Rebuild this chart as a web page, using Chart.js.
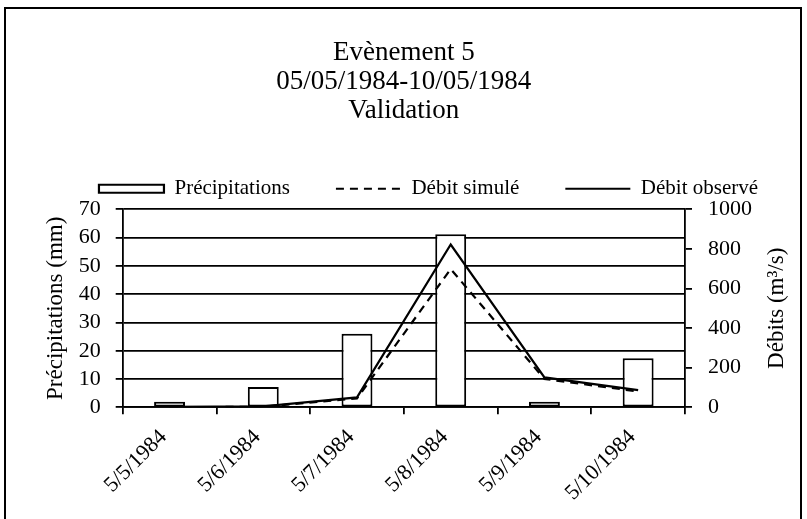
<!DOCTYPE html>
<html>
<head>
<meta charset="utf-8">
<script src="https://cdn.jsdelivr.net/npm/chart.js@4"></script>
<style>
  html, body { margin: 0; padding: 0; background: #fff; }
  #wrap { width: 807px; height: 519px; }
</style>
</head>
<body>
<div id="wrap"><canvas id="c" width="807" height="519"></canvas></div>
<script>
const titleLines = ['Evènement 5', '05/05/1984-10/05/1984', 'Validation'];
const categories = ['5/5/1984', '5/6/1984', '5/7/1984', '5/8/1984', '5/9/1984', '5/10/1984'];
const precipitations = [2, 7.2, 26, 61.2, 2, 17.3];
const debitSimule = [0, 3, 45, 698, 143, 80];
const debitObserve = [2, 5, 50, 822, 151, 87];
const seriesNames = ['Précipitations', 'Débit simulé', 'Débit observé'];
const leftAxisTitle = 'Précipitations (mm)';
const rightAxisTitle = 'Débits (m³/s)';

const FONT = "'Liberation Serif', 'Times New Roman', serif";
Chart.defaults.color = '#000';
Chart.defaults.font.family = FONT;

const framePlugin = {
  id: 'frame',
  beforeDraw(chart) {
    const ctx = chart.ctx;
    ctx.save();
    ctx.fillStyle = '#fff';
    ctx.fillRect(0, 0, chart.width, chart.height);
    ctx.restore();
  },
  afterDraw(chart) {
    const ctx = chart.ctx;
    ctx.save();
    ctx.strokeStyle = '#000';
    ctx.lineWidth = 2;
    ctx.strokeRect(5, 8, chart.width - 11, chart.height + 20);
    // right axis title, reading bottom to top
    const s = chart.scales.y1;
    const ca = chart.chartArea;
    ctx.translate(s.right - 30, (ca.top + ca.bottom) / 2);
    ctx.rotate(-Math.PI / 2);
    ctx.font = '23px ' + FONT;
    ctx.fillStyle = '#000';
    ctx.textAlign = 'center';
    ctx.textBaseline = 'middle';
    ctx.fillText(rightAxisTitle, 0, 0);
    ctx.restore();
  }
};

new Chart(document.getElementById('c'), {
  type: 'bar',
  data: {
    labels: categories,
    datasets: [
      {
        label: seriesNames[0],
        data: precipitations,
        yAxisID: 'y',
        backgroundColor: '#fff',
        borderColor: '#000',
        borderWidth: 2,
        borderSkipped: false,
        barPercentage: 0.33,
        categoryPercentage: 1,
        order: 2
      },
      {
        type: 'line',
        label: seriesNames[1],
        data: debitSimule,
        yAxisID: 'y1',
        borderColor: '#000',
        backgroundColor: '#000',
        borderWidth: 2.2,
        borderDash: [8, 6],
        pointRadius: 0,
        tension: 0,
        fill: false,
        order: 1
      },
      {
        type: 'line',
        label: seriesNames[2],
        data: debitObserve,
        yAxisID: 'y1',
        borderColor: '#000',
        backgroundColor: '#000',
        borderWidth: 2.2,
        pointRadius: 0,
        tension: 0,
        fill: false,
        order: 0
      }
    ]
  },
  options: {
    responsive: false,
    animation: false,
    devicePixelRatio: 1,
    layout: { padding: { left: 50, right: 0, top: 0, bottom: 0 } },
    plugins: {
      title: {
        display: true,
        fullSize: false,
        text: titleLines,
        font: { family: FONT, size: 27, weight: 'normal', lineHeight: 1.07 },
        color: '#000',
        padding: { top: 38.5, bottom: 7.1 }
      },
      legend: {
        position: 'top',
        labels: {
          usePointStyle: true,
          pointStyleWidth: 65,
          boxHeight: 8,
          padding: 46,
          font: { family: FONT, size: 21 },
          color: '#000',
          sort: (a, b) => a.datasetIndex - b.datasetIndex,
          generateLabels(chart) {
            const items = Chart.defaults.plugins.legend.labels.generateLabels(chart);
            items.forEach(it => {
              const ds = chart.data.datasets[it.datasetIndex];
              if (ds.type === 'line') {
                it.pointStyle = 'line';
                it.fillStyle = '#000';
                it.strokeStyle = '#000';
                it.lineWidth = 2.2;
                it.lineDash = ds.borderDash || [];
              } else {
                it.pointStyle = 'rect';
                it.fillStyle = '#fff';
                it.strokeStyle = '#000';
                it.lineWidth = 2.2;
              }
            });
            return items;
          }
        }
      },
      tooltip: { enabled: false }
    },
    scales: {
      x: {
        offset: true,
        grid: {
          offset: true,
          drawOnChartArea: false,
          drawTicks: true,
          tickLength: 7,
          color: '#000',
          lineWidth: 1.8
        },
        border: { display: true, color: '#000', width: 1.8 },
        ticks: {
          autoSkip: false,
          minRotation: 45,
          maxRotation: 45,
          padding: 10,
          labelOffset: -6,
          font: { family: FONT, size: 22 },
          color: '#000'
        },
        afterFit(s) { s.height = 111.7; }
      },
      y: {
        position: 'left',
        min: 0,
        max: 70,
        ticks: { stepSize: 10, autoSkip: false, padding: 15, font: { family: FONT, size: 22 }, color: '#000' },
        grid: { color: '#000', lineWidth: 1.8, tickLength: 7, drawTicks: true },
        border: { display: true, color: '#000', width: 1.8 },
        title: {
          display: true,
          text: leftAxisTitle,
          font: { family: FONT, size: 23 },
          color: '#000',
          padding: { top: -8, bottom: 0 }
        },
        afterFit(s) { s.width = 72.7; }
      },
      y1: {
        position: 'right',
        min: 0,
        max: 1000,
        ticks: {
          stepSize: 200,
          autoSkip: false,
          padding: 16,
          font: { family: FONT, size: 22 },
          color: '#000',
          callback: v => String(v)
        },
        grid: { drawOnChartArea: false, color: '#000', lineWidth: 1.8, tickLength: 7, drawTicks: true },
        border: { display: true, color: '#000', width: 1.8 },
        afterFit(s) { s.width = 122; }
      }
    }
  },
  plugins: [framePlugin]
});
</script>
</body>
</html>
